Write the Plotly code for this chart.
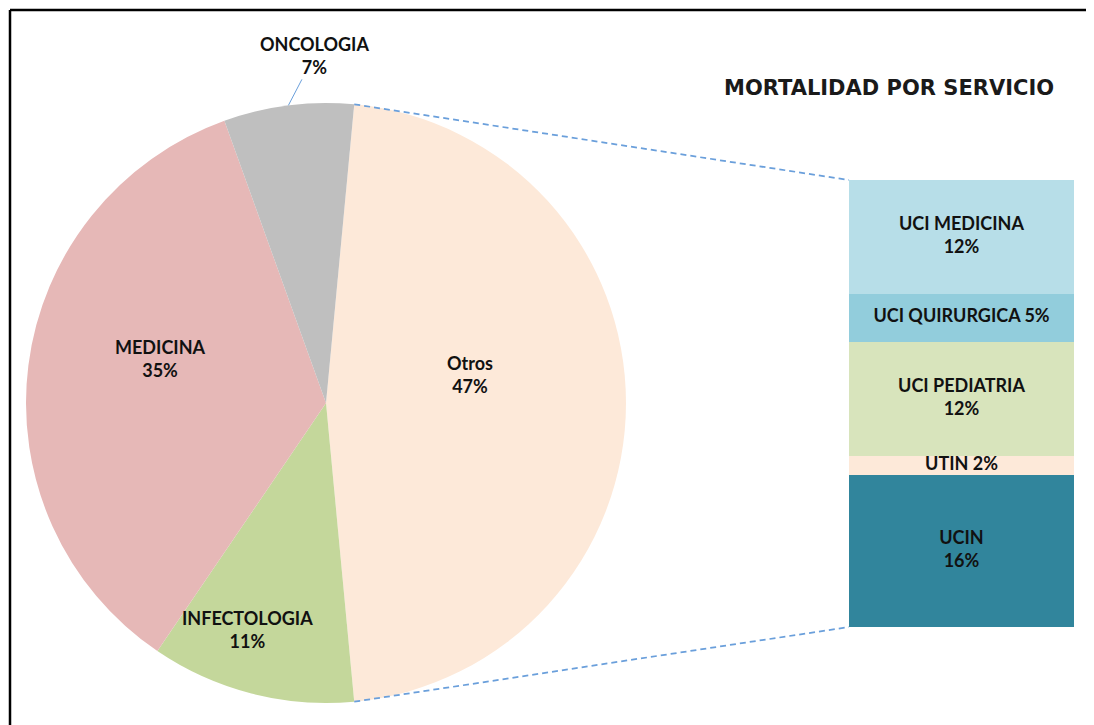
import math
import plotly.graph_objects as go

PAGE_OFFSET = 8  # body margin of the html page
W, H = 1094 - PAGE_OFFSET, 725 - PAGE_OFFSET  # fit the visible window exactly

# ---------------- data ----------------
pie_labels = ["Otros", "INFECTOLOGIA", "MEDICINA", "ONCOLOGIA"]
pie_values = [47, 11, 35, 7]
pie_colors = ["#FDE9D9", "#C4D79B", "#E6B8B7", "#BFBFBF"]

# stacked bar, listed bottom -> top
bar_labels = ["UCIN", "UTIN", "UCI PEDIATRIA", "UCI QUIRURGICA", "UCI MEDICINA"]
bar_values = [16, 2, 12, 5, 12]
bar_colors = ["#31859C", "#FDE9D9", "#D8E4BC", "#92CDDC", "#B7DEE8"]
bar_one_line = [False, True, False, True, False]

title_text = "MORTALIDAD POR SERVICIO"

# ---------------- layout geometry (screen pixels) ----------------
PIE_CX, PIE_CY, PIE_R = 326, 403, 300
BAR_L, BAR_R, BAR_T, BAR_B = 849, 1074, 180, 627
# label placement inside slices: (angle from 12 o'clock clockwise, radius fraction)
pie_label_place = [(79, 0.49), (199, 0.80), (285, 0.57), None]

LABEL_FONT = dict(family="Lato, Open Sans, sans-serif", size=18, color="#111111", weight="bold")
LINE_BLUE = "#6A9FDB"


def px(x):
    return (x - PAGE_OFFSET) / W


def py(y):
    return 1 - (y - PAGE_OFFSET) / H


pie_total = sum(pie_values)
first_share = pie_values[0] / pie_total * 360
rotation = 90 - first_share / 2  # "Otros" centred at 3 o'clock


def edge_point(angle_deg, r=PIE_R):
    a = math.radians(angle_deg)
    return PIE_CX + r * math.sin(a), PIE_CY - r * math.cos(a)


fig = go.Figure()

fig.add_trace(go.Pie(
    labels=pie_labels,
    values=pie_values,
    sort=False,
    direction="clockwise",
    rotation=rotation,
    marker=dict(colors=pie_colors, line=dict(width=0)),
    textinfo="none",
    domain=dict(x=[px(PIE_CX - PIE_R), px(PIE_CX + PIE_R)],
                y=[py(PIE_CY + PIE_R), py(PIE_CY - PIE_R)]),
    showlegend=False,
    hoverinfo="label+percent",
))

# stacked bar
bar_total = sum(bar_values)
for lab, v, c in zip(bar_labels, bar_values, bar_colors):
    fig.add_trace(go.Bar(
        x=[0], y=[v], name=lab, marker=dict(color=c, line=dict(width=0)),
        width=1, showlegend=False, hoverinfo="name+y",
    ))

mids, texts = [], []
base = 0
for lab, v, one in zip(bar_labels, bar_values, bar_one_line):
    mids.append(base + v / 2)
    texts.append(f"{lab} {v}%" if one else f"{lab}<br>{v}%")
    base += v
fig.add_trace(go.Scatter(
    x=[0] * len(mids), y=mids, text=texts, mode="text",
    textfont=LABEL_FONT, textposition="middle center",
    showlegend=False, hoverinfo="skip",
))

# connector lines from the "Otros" slice edges to the bar
start_ang = rotation
end_ang = rotation + first_share
sx, sy = edge_point(start_ang)
ex, ey = edge_point(end_ang)
dash_line = dict(color=LINE_BLUE, width=1.75, dash="6px,4px")
frame_line = dict(color="black", width=2.5)
shapes = [
    dict(type="line", xref="paper", yref="paper", x0=px(sx), y0=py(sy), x1=px(BAR_L), y1=py(BAR_T),
         line=dash_line),
    dict(type="line", xref="paper", yref="paper", x0=px(ex), y0=py(ey), x1=px(BAR_L), y1=py(BAR_B),
         line=dash_line),
    # chart frame (left and top edges; the rest lies outside the picture)
    dict(type="line", xref="paper", yref="paper", x0=px(10), y0=-0.05, x1=px(10), y1=py(10),
         line=frame_line),
    dict(type="line", xref="paper", yref="paper", x0=px(10), y0=py(10), x1=1.05, y1=py(10),
         line=frame_line),
]

annotations = []
# labels inside slices
for lab, v, place in zip(pie_labels, pie_values, pie_label_place):
    if place is None:
        continue
    lx, ly = edge_point(place[0], PIE_R * place[1])
    annotations.append(dict(
        x=px(lx), y=py(ly), xref="paper", yref="paper", xanchor="center", yanchor="middle",
        text=f"{lab}<br>{v}%", showarrow=False, font=LABEL_FONT))

# Oncologia outside label with leader line
cum = sum(pie_values[:3]) / pie_total * 360
onc_mid = rotation + cum + pie_values[3] / pie_total * 360 / 2
ox, oy = edge_point(onc_mid)
annotations.append(dict(
    x=px(ox), y=py(oy), xref="paper", yref="paper",
    text=f"{pie_labels[3]}<br>{pie_values[3]}%", showarrow=True, arrowhead=0,
    arrowwidth=1, arrowcolor=LINE_BLUE, ax=26, ay=-50, font=LABEL_FONT))

annotations.append(dict(
    x=px(889), y=py(88), xref="paper", yref="paper", xanchor="center", yanchor="middle",
    text=title_text, showarrow=False,
    font=dict(family="DejaVu Sans, sans-serif", size=21, color="#1a1a1a", weight="bold")))

fig.update_layout(
    width=W, height=H,
    margin=dict(l=0, r=0, t=0, b=0),
    paper_bgcolor="white", plot_bgcolor="rgba(0,0,0,0)",
    barmode="stack", bargap=0,
    xaxis=dict(domain=[px(BAR_L), px(BAR_R)], range=[-0.5, 0.5], visible=False, fixedrange=True),
    yaxis=dict(domain=[py(BAR_B), py(BAR_T)], range=[0, bar_total], visible=False, fixedrange=True),
    shapes=shapes,
    annotations=annotations,
)

fig.write_html("out.html")
